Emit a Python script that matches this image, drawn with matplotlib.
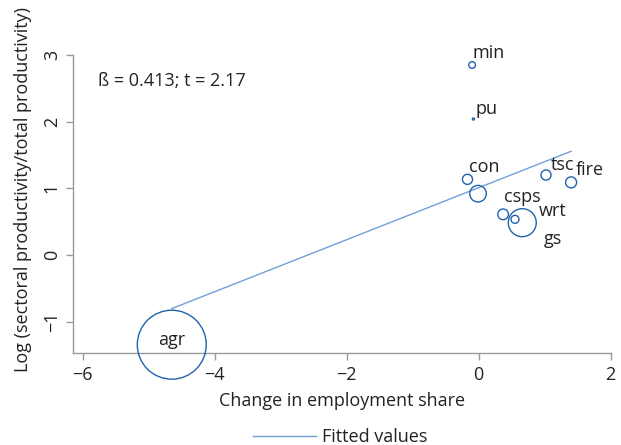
import matplotlib
matplotlib.use("Agg")
import matplotlib.pyplot as plt
import numpy as np

# ---- data ----
sectors = ["agr", "min", "man", "pu", "con", "wrt", "tsc", "fire", "csps", "gs"]
labels = ["agr", "min", "", "pu", "con", "wrt", "tsc", "fire", "csps", "gs"]
emp_change = [-4.65, -0.10, -0.01, -0.08, -0.17, 0.55, 1.02, 1.40, 0.37, 0.66]
log_rel_prod = [-1.345, 2.85, 0.92, 2.04, 1.135, 0.535, 1.20, 1.09, 0.61, 0.485]
emp_weight = [74.7, 0.7, 4.3, 0.07, 1.6, 1.0, 1.6, 1.9, 1.8, 12.3]
fit_slope = 0.39
fit_intercept = 1.01
annot_text = "ß = 0.413; t = 2.17"
xticks = [-6, -4, -2, 0, 2]
yticks = [-1, 0, 1, 2, 3]

# label offsets (pixels) relative to marker centre
label_offsets = {
    "agr": (0, 0, "center"),
    "min": (0, 7, "left"),
    "pu": (2, 5, "left"),
    "con": (2, 7, "left"),
    "tsc": (5, 5, "left"),
    "fire": (5, 7, "left"),
    "csps": (1, 12, "left"),
    "wrt": (24, 3, "left"),
    "gs": (21, -21, "left"),
}

FONT = "Open Sans"
plt.rcParams["font.family"] = [FONT, "DejaVu Sans"]
FS = 13
TXT = "#222222"
GRAY = "#9a9a9a"
BLUE = "#1f63ad"
LBLUE = "#6f9fd8"

W, H = 621, 445
fig = plt.figure(figsize=(W / 100, H / 100), dpi=100)
L, R, T, B = 73.3, 610.7, 55.0, 353.3
ax = fig.add_axes([L / W, 1 - B / H, (R - L) / W, (B - T) / H])
ax.set_xlim(-6.142, 2.0)
ax.set_ylim(-1.474, 3.0)

x = np.array(emp_change)
y = np.array(log_rel_prod)
w = np.array(emp_weight)
sizes = w * 33.0

# fitted line
xf = np.array([x.min(), x.max()])
line, = ax.plot(xf, fit_intercept + fit_slope * xf, color=LBLUE, lw=1.0,
                label="Fitted values", zorder=2)

ax.scatter(x, y, s=sizes, facecolors="none", edgecolors=BLUE, linewidths=1.0,
           clip_on=False, zorder=3)

for xi, yi, lab in zip(x, y, labels):
    if not lab:
        continue
    dx, dy, ha = label_offsets[lab]
    ax.annotate(lab, (xi, yi), xytext=(dx, dy), textcoords="offset pixels",
                ha=ha, va="baseline", fontsize=FS, color=TXT,
                annotation_clip=False, zorder=4)

ax.text(97.5 / W, 1 - 86 / H, annot_text, transform=fig.transFigure,
        ha="left", va="baseline", fontsize=FS, color=TXT)

for s in ["top", "right"]:
    ax.spines[s].set_visible(False)
for s in ["left", "bottom"]:
    ax.spines[s].set_color(GRAY)
    ax.spines[s].set_linewidth(1.0)
ax.spines["left"].set_bounds(-1.474, 3.0)
ax.spines["bottom"].set_bounds(-6.142, 2.0)

ax.set_xticks(xticks)
ax.set_yticks(yticks)
ax.tick_params(direction="out", length=5, width=1.0, color=GRAY,
               labelcolor=TXT, labelsize=FS, pad=4)
ax.tick_params(axis="y", labelrotation=90)
for t in ax.get_yticklabels():
    t.set_va("center")

fig.text(342 / W, 1 - 401 / H, "Change in employment share", ha="center",
         va="center", fontsize=FS, color=TXT)
fig.text(23 / W, 1 - 190 / H, "Log (sectoral productivity/total productivity)",
         ha="center", va="center", rotation=90, fontsize=FS, color=TXT)

leg = fig.legend(handles=[line], loc="center", bbox_to_anchor=(340 / W, 1 - 437 / H),
                 frameon=False, fontsize=FS, handlelength=3.5, handletextpad=0.3)
for t in leg.get_texts():
    t.set_color(TXT)

fig.savefig("out.png", dpi=100)
